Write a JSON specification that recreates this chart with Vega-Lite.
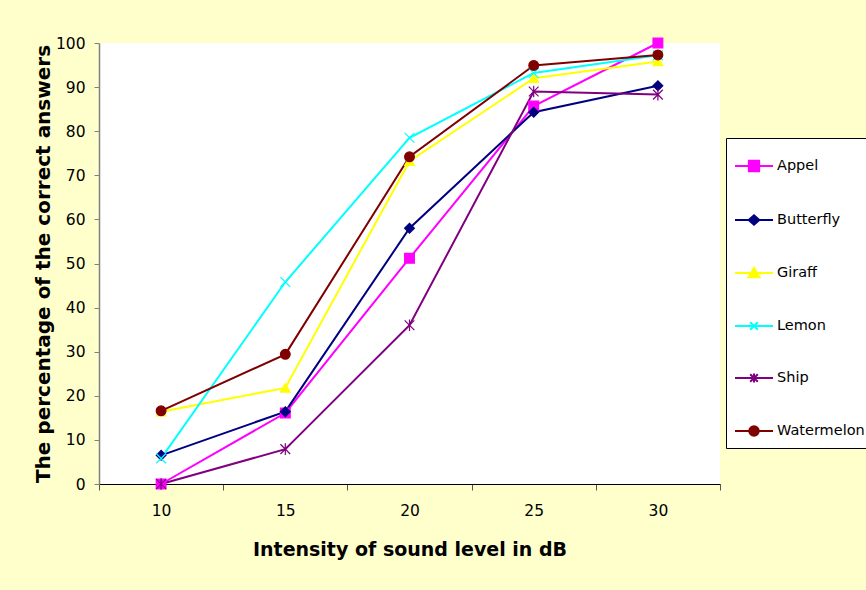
{
  "$schema": "https://vega.github.io/schema/vega-lite/v6.json",
  "autosize": "none",
  "width": 621,
  "height": 441,
  "padding": {"left": 99, "top": 43, "right": 146, "bottom": 106},
  "background": "#FFFFCC",
  "config": {
    "font": "DejaVu Sans",
    "view": {"fill": "#FFFFFF", "stroke": null},
    "axis": {
      "labelFont": "DejaVu Sans",
      "labelFontSize": 15.5,
      "labelColor": "#000000",
      "titleFont": "DejaVu Sans",
      "titleFontWeight": "bold",
      "titleColor": "#000000",
      "grid": false
    },
    "legend": {
      "orient": "none",
      "legendX": 627,
      "legendY": 95,
      "fillColor": "#FFFFFF",
      "strokeColor": "#000000",
      "strokeWidth": 1,
      "padding": 8,
      "rowPadding": 24,
      "symbolSize": 1444,
      "symbolStrokeWidth": 2,
      "symbolFillColor": "#000000",
      "labelFont": "DejaVu Sans",
      "labelFontSize": 14.5,
      "labelColor": "#000000",
      "labelOffset": 3
    }
  },
  "data": {
    "values": [
      {"dB": 10, "word": "Appel", "pct": 0},
      {"dB": 15, "word": "Appel", "pct": 16.1},
      {"dB": 20, "word": "Appel", "pct": 51.2},
      {"dB": 25, "word": "Appel", "pct": 85.7},
      {"dB": 30, "word": "Appel", "pct": 100},
      {"dB": 10, "word": "Butterfly", "pct": 6.5},
      {"dB": 15, "word": "Butterfly", "pct": 16.4},
      {"dB": 20, "word": "Butterfly", "pct": 58},
      {"dB": 25, "word": "Butterfly", "pct": 84.3},
      {"dB": 30, "word": "Butterfly", "pct": 90.3},
      {"dB": 10, "word": "Giraff", "pct": 16.4},
      {"dB": 15, "word": "Giraff", "pct": 21.8},
      {"dB": 20, "word": "Giraff", "pct": 73.2},
      {"dB": 25, "word": "Giraff", "pct": 92},
      {"dB": 30, "word": "Giraff", "pct": 95.8},
      {"dB": 10, "word": "Lemon", "pct": 5.8},
      {"dB": 15, "word": "Lemon", "pct": 45.8},
      {"dB": 20, "word": "Lemon", "pct": 78.5},
      {"dB": 25, "word": "Lemon", "pct": 93.2},
      {"dB": 30, "word": "Lemon", "pct": 97.2},
      {"dB": 10, "word": "Ship", "pct": 0},
      {"dB": 15, "word": "Ship", "pct": 7.9},
      {"dB": 20, "word": "Ship", "pct": 36},
      {"dB": 25, "word": "Ship", "pct": 89},
      {"dB": 30, "word": "Ship", "pct": 88.3},
      {"dB": 10, "word": "Watermelon", "pct": 16.6},
      {"dB": 15, "word": "Watermelon", "pct": 29.4},
      {"dB": 20, "word": "Watermelon", "pct": 74.2},
      {"dB": 25, "word": "Watermelon", "pct": 94.9},
      {"dB": 30, "word": "Watermelon", "pct": 97.3}
    ]
  },
  "encoding": {
    "x": {
      "field": "dB",
      "type": "ordinal",
      "scale": {"type": "band", "paddingInner": 0, "paddingOuter": 0},
      "axis": {
        "title": "Intensity of sound level  in dB",
        "titleFontSize": 19,
        "titlePadding": 22,
        "labelAngle": 0,
        "labelPadding": 13,
        "tickBand": "extent",
        "tickSize": 6,
        "tickColor": "#555555",
        "domainColor": "#000000",
        "domainWidth": 1.2
      }
    },
    "y": {
      "field": "pct",
      "type": "quantitative",
      "scale": {"domain": [0, 100], "nice": false},
      "axis": {
        "title": "The percentage of the correct answers",
        "titleFontSize": 20,
        "titlePadding": 2,
        "values": [0, 10, 20, 30, 40, 50, 60, 70, 80, 90, 100],
        "tickSize": 5,
        "tickColor": "#808080",
        "domainColor": "#808080",
        "domainWidth": 1.5,
        "labelPadding": 9
      }
    }
  },
  "layer": [
    {
      "mark": {"type": "line", "strokeWidth": 2},
      "encoding": {
        "color": {
          "field": "word",
          "type": "nominal",
          "scale": {
            "domain": ["Appel", "Butterfly", "Giraff", "Lemon", "Ship", "Watermelon"],
            "range": ["#FF00FF", "#000080", "#FFFF00", "#00FFFF", "#800080", "#800000"]
          },
          "legend": null
        }
      }
    },
    {
      "mark": {"type": "point", "size": 95, "strokeWidth": 1.2, "opacity": 1},
      "encoding": {
        "shape": {
          "field": "word",
          "type": "nominal",
          "scale": {
            "domain": ["Appel", "Butterfly", "Giraff", "Lemon", "Ship", "Watermelon"],
            "range": ["square", "diamond", "triangle-up", "M-1,-1L1,1M-1,1L1,-1", "M-1,-1L1,1M-1,1L1,-1M0,-1.2V1.2", "circle"]
          },
          "legend": null
        },
        "fill": {
          "field": "word",
          "type": "nominal",
          "scale": {
            "domain": ["Appel", "Butterfly", "Giraff", "Lemon", "Ship", "Watermelon"],
            "range": ["#FF00FF", "#000080", "#FFFF00", "transparent", "transparent", "#800000"]
          },
          "legend": null
        },
        "stroke": {
          "field": "word",
          "type": "nominal",
          "scale": {
            "domain": ["Appel", "Butterfly", "Giraff", "Lemon", "Ship", "Watermelon"],
            "range": ["#FF00FF", "#000080", "#FFFF00", "#00FFFF", "#800080", "#800000"]
          },
          "legend": null
        }
      }
    },
    {
      "mark": {"type": "point", "opacity": 0, "strokeWidth": 2, "filled": true},
      "encoding": {
        "shape": {
          "field": "word",
          "type": "nominal",
          "title": null,
          "scale": {
            "domain": ["Appel", "Butterfly", "Giraff", "Lemon", "Ship", "Watermelon"],
            "range": [
              "M-1,0H1M-0.27,-0.27H0.27V0.27H-0.27Z",
              "M-1,0H1M-0.28,0L0,-0.24L0.28,0L0,0.24Z",
              "M-1,0H1M0,-0.27L0.29,0.22H-0.29Z",
              "M-1,0H1M-0.2,-0.2L0.2,0.2M-0.2,0.2L0.2,-0.2",
              "M-1,0H1M-0.2,-0.2L0.2,0.2M-0.2,0.2L0.2,-0.2M0,-0.24V0.24",
              "M-1,0H1M-0.25,0A0.25,0.25,0,1,1,0.25,0A0.25,0.25,0,1,1,-0.25,0Z"
            ]
          }
        },
        "fill": {
          "field": "word",
          "type": "nominal",
          "title": null,
          "scale": {
            "domain": ["Appel", "Butterfly", "Giraff", "Lemon", "Ship", "Watermelon"],
            "range": ["#FF00FF", "#000080", "#FFFF00", "#00FFFF", "#800080", "#800000"]
          }
        },
        "stroke": {
          "field": "word",
          "type": "nominal",
          "title": null,
          "scale": {
            "domain": ["Appel", "Butterfly", "Giraff", "Lemon", "Ship", "Watermelon"],
            "range": ["#FF00FF", "#000080", "#FFFF00", "#00FFFF", "#800080", "#800000"]
          }
        }
      }
    }
  ],
  "resolve": {
    "scale": {"color": "independent", "fill": "independent", "stroke": "independent", "shape": "independent"}
  }
}
